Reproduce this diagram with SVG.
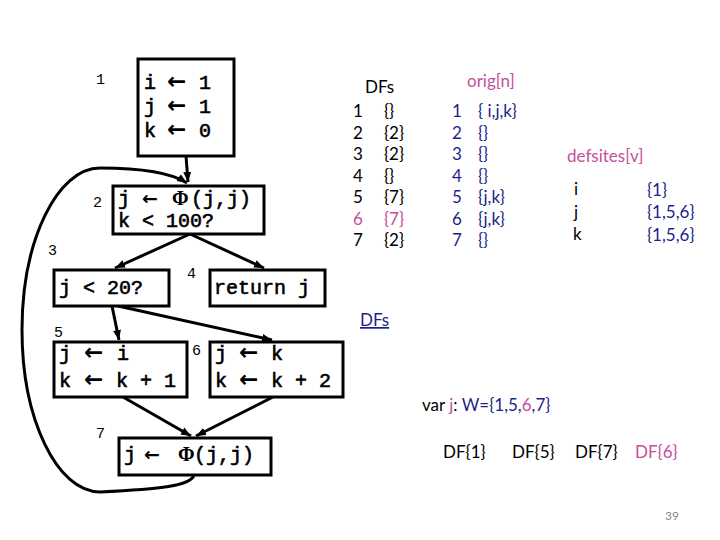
<svg xmlns="http://www.w3.org/2000/svg" width="720" height="540" viewBox="0 0 720 540">
<style>
.box{fill:#fff;stroke:#000;stroke-width:3}
.code{font-family:"Liberation Mono","Courier New",monospace;font-size:20px;fill:#000;stroke:#000;stroke-width:0.6}
.ar{font-family:"DejaVu Sans",sans-serif;font-weight:bold;stroke-width:0;font-size:23px}
.ar2{font-family:"DejaVu Sans",sans-serif;font-weight:bold;stroke-width:0;font-size:19px}
.phi{font-family:"Liberation Serif",serif;font-weight:bold;stroke-width:0}
.lbl{font-family:"Liberation Mono","Courier New",monospace;font-size:15px;fill:#000}
.edge{fill:none;stroke:#000;stroke-width:3}
.t{font-family:Lato,"Liberation Sans",sans-serif;font-size:17px;fill:#000}
.navy{fill:#1f1f8a}
.pink{fill:#c4509b}
</style>
<defs>
<marker id="ah" markerUnits="userSpaceOnUse" markerWidth="12" markerHeight="10" refX="10" refY="5" orient="auto">
<path d="M0,1 L10,5 L0,9 Z" fill="#000"/>
</marker>
</defs>
<rect width="720" height="540" fill="#fff"/>

<g id="connectors">
<path class="edge" d="M186,156 L188,182" marker-end="url(#ah)"/>
<path class="edge" d="M190,234 L115,268" marker-end="url(#ah)"/>
<path class="edge" d="M190,234 L264,268" marker-end="url(#ah)"/>
<path class="edge" d="M112,306 L119,340" marker-end="url(#ah)"/>
<path class="edge" d="M118,306 L272,340" marker-end="url(#ah)"/>
<path class="edge" d="M123,397 L191,436" marker-end="url(#ah)"/>
<path class="edge" d="M273,397 L196,436" marker-end="url(#ah)"/>
<path class="edge" d="M194,475 C191,486 160,489 100,492 C57,492 22,419 22,330 C22,241 57,168 100,168 C140,168 170,172 187,183" marker-end="url(#ah)"/>
</g>

<g id="n1">
<rect class="box" x="138" y="59" width="96" height="97"/>
<text class="code" x="144" y="89">i<tspan class="ar" x="167">←</tspan><tspan x="199">1</tspan></text>
<text class="code" x="144" y="113">j<tspan class="ar" x="167">←</tspan><tspan x="199">1</tspan></text>
<text class="code" x="144" y="137">k<tspan class="ar" x="167">←</tspan><tspan x="199">0</tspan></text>
<text class="lbl" x="96" y="84">1</text>
</g>

<g id="n2">
<rect class="box" x="113" y="186" width="151" height="48"/>
<text class="code" x="118" y="205">j<tspan class="ar2" x="142">←</tspan><tspan class="phi" x="172">Φ</tspan><tspan x="191">(j,j)</tspan></text>
<text class="code" x="118" y="227">k &lt; 100?</text>
<text class="lbl" x="93" y="207">2</text>
</g>

<g id="n3">
<rect class="box" x="54" y="270" width="115" height="36"/>
<text class="code" x="59" y="294">j &lt; 20?</text>
<text class="lbl" x="48" y="255">3</text>
</g>

<g id="n4">
<rect class="box" x="210" y="270" width="115" height="36"/>
<text class="code" x="214" y="294">return j</text>
<text class="lbl" x="187" y="278">4</text>
</g>

<g id="n5">
<rect class="box" x="54" y="342" width="133" height="55"/>
<text class="code" x="59" y="360">j<tspan class="ar" x="84">←</tspan><tspan x="117">i</tspan></text>
<text class="code" x="59" y="387">k<tspan class="ar" x="84">←</tspan><tspan x="116">k + 1</tspan></text>
<text class="lbl" x="54" y="337">5</text>
</g>

<g id="n6">
<rect class="box" x="210" y="342" width="133" height="55"/>
<text class="code" x="215" y="360">j<tspan class="ar" x="239">←</tspan><tspan x="271">k</tspan></text>
<text class="code" x="215" y="387">k<tspan class="ar" x="239">←</tspan><tspan x="271">k + 2</tspan></text>
<text class="lbl" x="192" y="355">6</text>
</g>

<g id="n7">
<rect class="box" x="119" y="438" width="152" height="37"/>
<text class="code" x="124" y="461">j<tspan class="ar2" x="144">←</tspan><tspan class="phi" x="178">Φ</tspan><tspan x="194">(j,j)</tspan></text>
<text class="lbl" x="96" y="438">7</text>
</g>

<g id="dfs-table">
<text class="t" x="365" y="93">DFs</text>
<text class="t" x="353" y="117">1</text><text class="t" x="384" y="117">{}</text>
<text class="t" x="353" y="138.5">2</text><text class="t" x="384" y="138.5">{2}</text>
<text class="t" x="353" y="160">3</text><text class="t" x="384" y="160">{2}</text>
<text class="t" x="353" y="181.5">4</text><text class="t" x="384" y="181.5">{}</text>
<text class="t" x="353" y="203">5</text><text class="t" x="384" y="203">{7}</text>
<text class="t pink" x="353" y="224.5">6</text><text class="t pink" x="384" y="224.5">{7}</text>
<text class="t" x="353" y="246">7</text><text class="t" x="384" y="246">{2}</text>
</g>

<g id="orig-table">
<text class="t pink" x="467" y="87">orig[n]</text>
<text class="t navy" x="452" y="117">1</text><text class="t navy" x="478" y="117">{ i,j,k}</text>
<text class="t navy" x="452" y="138.5">2</text><text class="t navy" x="478" y="138.5">{}</text>
<text class="t navy" x="452" y="160">3</text><text class="t navy" x="478" y="160">{}</text>
<text class="t navy" x="452" y="181.5">4</text><text class="t navy" x="478" y="181.5">{}</text>
<text class="t navy" x="452" y="203">5</text><text class="t navy" x="478" y="203">{j,k}</text>
<text class="t navy" x="452" y="224.5">6</text><text class="t navy" x="478" y="224.5">{j,k}</text>
<text class="t navy" x="452" y="246">7</text><text class="t navy" x="478" y="246">{}</text>
</g>

<g id="defsites-table">
<text class="t pink" x="567" y="162">defsites[v]</text>
<text class="t" x="574" y="195">i</text><text class="t navy" x="647" y="196">{1}</text>
<text class="t" x="574" y="218">j</text><text class="t navy" x="647" y="218">{1,5,6}</text>
<text class="t" x="573" y="240">k</text><text class="t navy" x="647" y="241">{1,5,6}</text>
</g>

<g id="worklist">
<text class="t navy" x="360" y="326" text-decoration="underline">DFs</text>
<text class="t" x="422" y="411">var <tspan class="pink">j</tspan>:  <tspan class="navy">W={1,5,</tspan><tspan class="pink">6</tspan><tspan class="navy">,7}</tspan></text>
<text class="t" x="443" y="458">DF{1}</text>
<text class="t" x="512" y="458">DF{5}</text>
<text class="t" x="575" y="458">DF{7}</text>
<text class="t pink" x="635" y="458">DF{6}</text>
<text class="t" x="665" y="520" style="font-size:12px;fill:#888">39</text>
</g>
</svg>
